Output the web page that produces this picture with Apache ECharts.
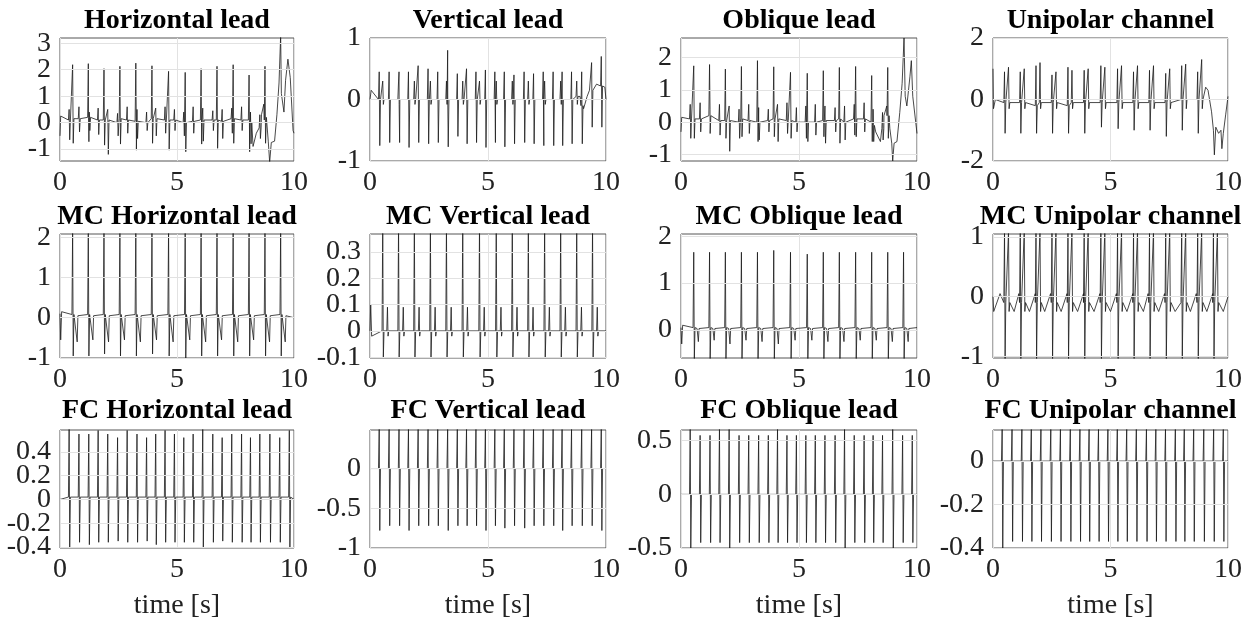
<!DOCTYPE html>
<html><head><meta charset="utf-8">
<script src="https://cdn.jsdelivr.net/npm/echarts@6/dist/echarts.min.js"></script>
<style>html,body{margin:0;background:#fff}#c{width:1255px;height:621px}</style>
</head><body><div id="c"></div>
<script>
// ---------- text ----------
const titles = ['Horizontal lead','Vertical lead','Oblique lead','Unipolar channel',
  'MC Horizontal lead','MC Vertical lead','MC Oblique lead','MC Unipolar channel',
  'FC Horizontal lead','FC Vertical lead','FC Oblique lead','FC Unipolar channel'];
const xLabel = 'time [s]';
const xTicks = [0, 5, 10];
const yRanges = [[-1.45,3.2],[-1,1],[-1.2,2.6],[-2,2],
  [-1,2.08],[-0.103,0.368],[-0.6,2.05],[-1.03,1.05],
  [-0.408,0.584],[-1,0.485],[-0.5,0.6],[-0.4,0.143]];
const yTicks = [[-1,0,1,2,3],[-1,0,1],[-1,0,1,2],[-2,0,2],
  [-1,0,1,2],[-0.1,0,0.1,0.2,0.3],[0,1,2],[-1,0,1],
  [-0.4,-0.2,0,0.2,0.4],[-1,-0.5,0],[-0.5,0,0.5],[-0.4,-0.2,0]];

// ---------- beats: [time s, baseline, peak, trough] ----------
const hRawBeats = [
 [0.54,0.15,2.19,-0.78],[1.21,0.2,2.23,-0.72],[1.88,0.1,2.04,-0.85],[2.56,0.15,2.13,-0.81],
 [3.24,0.05,2.25,-1.04],[3.93,0.15,2.15,-0.78],[4.64,0.1,1.94,-1.04],[5.35,0.0,1.9,-1.1],
 [6.03,0.1,2.04,-0.81],[6.71,0.1,2.13,-0.97],[7.40,0.15,2.19,-0.78],[8.08,0.1,1.8,-1.1],
 [8.76,0.1,2.13,-0.78],
 [0.39,0.1,0.5,-0.65],[0.81,0.15,0.6,-0.35],[1.25,0.2,0.4,-0.3],[1.63,0.1,0.55,-0.45],
 [2.04,0.1,0.5,-1.2],[2.46,0.0,0.35,-0.5],[2.87,0.1,0.6,-0.4],[3.29,0.05,0.5,-0.6],
 [3.70,0.0,0.4,-0.3],[4.09,0.15,0.55,-0.5],[4.49,0.1,0.6,-0.4],[4.89,0.1,0.5,-0.3],
 [5.29,0.0,0.4,-0.5],[5.69,0.05,0.6,-0.4],[6.10,0.1,0.55,-0.7],[6.53,0.1,0.45,-0.3],
 [6.93,0.05,0.5,-0.6],[7.34,0.15,0.55,-0.4],[7.76,0.1,0.6,-0.3],[8.14,0.0,0.4,-0.8],
 [8.54,-0.2,0.3,-0.6]];
const hRawWander = [[0,-0.5],[0.03,0.25],[8.25,-0.9],[8.39,-0.4],[8.61,0.3],[8.71,0.7],[8.82,0.2],
 [8.90,-0.7],[8.96,-1.5],[9.03,-0.75],[9.17,-0.7],[9.27,0.3],[9.36,1.5],[9.43,3.3],[9.46,1.1],
 [9.50,1.1],[9.57,0.4],[9.64,1.6],[9.74,2.4],[9.84,1.7],[9.96,-0.3],[10,-0.4]];

const vRawBeats = [
 [0.54,0.0,0.3,-0.08],[1.21,0.0,0.3,-0.08],[1.88,0.0,0.3,-0.08],[2.56,0.0,0.3,-0.08],
 [3.24,0.0,0.3,-0.08],[3.93,0.0,0.3,-0.08],[4.64,0.0,0.3,-0.08],[5.35,0.0,0.3,-0.08],
 [6.03,0.0,0.3,-0.08],[6.71,0.0,0.3,-0.08],[7.40,0.0,0.3,-0.08],[8.08,0.0,0.3,-0.08],
 [8.76,0.05,0.3,-0.08],
 [0.39,0.0,0.45,-0.75],[0.81,0.0,0.45,-0.7],[1.23,0.0,0.45,-0.7],[1.63,0.0,0.45,-0.78],
 [2.04,0.0,0.55,-0.7],[2.46,0.0,0.5,-0.72],[2.87,0.0,0.45,-0.7],[3.29,0.0,0.8,-0.77],
 [3.70,0.0,0.42,-0.6],[4.09,0.0,0.5,-0.72],[4.49,0.0,0.45,-0.7],[4.89,0.0,0.48,-0.78],
 [5.29,0.0,0.45,-0.7],[5.69,0.0,0.45,-0.77],[6.10,0.0,0.4,-0.72],[6.53,0.0,0.45,-0.7],
 [6.93,0.0,0.42,-0.72],[7.34,0.0,0.45,-0.75],[7.76,0.0,0.45,-0.75],[8.14,0.0,0.45,-0.75],
 [8.54,0.0,0.45,-0.72],[8.97,-0.1,0.45,-0.72],[9.39,0.15,0.6,-0.45],[9.80,0.22,0.7,-0.45]];
const vRawWander = [[0,0.0],[0.05,0.15],[8.9,0.05],[9.05,-0.15],[9.2,0.05],[9.3,0.15],[9.6,0.25],[9.95,0.2],[10,0.0]];

const oRawBeats = [
 [0.54,0.1,1.74,-0.5],[1.21,0.2,1.78,-0.35],[1.88,0.05,1.64,-0.5],[2.56,0.1,1.72,-0.45],
 [3.24,0.0,1.9,-0.6],[3.93,0.1,1.71,-0.45],[4.64,0.05,1.54,-0.5],[5.35,0.0,1.51,-0.6],
 [6.03,0.05,1.59,-0.45],[6.71,0.1,1.69,-0.65],[7.40,0.1,1.72,-0.45],[8.08,0.0,1.44,-0.6],
 [8.76,0.2,1.69,-0.5],
 [0.39,0.1,0.55,-0.5],[0.81,0.1,0.6,-0.3],[1.23,0.2,0.4,-0.3],[1.63,0.05,0.55,-0.4],
 [2.04,0.05,0.5,-0.9],[2.46,0.0,0.4,-0.5],[2.87,0.05,0.55,-0.35],[3.29,0.0,0.45,-0.55],
 [3.70,0.05,0.4,-0.3],[4.09,0.1,0.55,-0.6],[4.49,0.05,0.6,-0.35],[4.89,0.0,0.45,-0.3],
 [5.29,0.0,0.5,-0.5],[5.69,0.0,0.55,-0.4],[6.10,0.05,0.5,-0.65],[6.53,0.05,0.45,-0.3],
 [6.93,0.0,0.5,-0.55],[7.34,0.1,0.55,-0.4],[7.76,0.1,0.6,-0.3],[8.14,-0.1,0.4,-0.6],
 [8.54,-0.2,0.3,-0.55]];
const oRawWander = [[0,-0.3],[0.03,0.15],[8.25,-0.3],[8.45,-0.6],[8.6,0.2],[8.72,0.5],[8.85,-0.2],
 [8.93,-0.65],[8.97,-1.2],[9.03,-0.65],[9.15,-0.6],[9.27,0.3],[9.37,1.2],[9.45,2.6],[9.5,0.8],
 [9.57,0.5],[9.7,1.4],[9.76,1.9],[9.82,0.8],[10,-0.35]];

const uRawBeats = [
 [0.49,-0.1,0.9,-1.1],[0.66,-0.1,1.05,-0.3],[1.16,-0.1,0.9,-1.1],[1.33,-0.1,1.0,-0.3],
 [1.83,-0.2,1.1,-1.1],[2.00,-0.1,1.2,-0.3],[2.51,-0.1,0.8,-1.1],[2.68,-0.1,0.9,-0.3],
 [3.19,-0.2,1.05,-1.1],[3.36,-0.1,0.95,-0.3],[3.88,-0.1,0.95,-1.1],[4.05,-0.1,1.0,-0.3],
 [4.59,-0.1,1.1,-0.9],[4.76,-0.1,1.05,-0.3],[5.30,-0.1,1.0,-0.95],[5.47,-0.1,1.1,-0.3],
 [5.98,-0.1,0.9,-1.0],[6.15,-0.1,1.1,-0.3],[6.66,-0.1,0.95,-1.0],[6.83,-0.1,1.1,-0.3],
 [7.35,-0.1,0.85,-1.2],[7.52,-0.1,1.0,-0.3],[8.03,0.0,1.1,-1.0],[8.20,0.0,1.15,-0.3],
 [8.71,0.0,0.9,-1.1],[8.88,0.0,1.3,-0.3]];
const uRawWander = [[0,1.0],[0.02,-0.3],[0.1,0.0],[9.05,0.4],[9.15,0.3],[9.3,-0.4],[9.38,-1.0],
 [9.42,-1.8],[9.48,-0.9],[9.6,-1.1],[9.7,-1.0],[9.74,-1.6],[9.8,-1.1],[9.9,-0.5],[10,0.1]];

const hMcBeats = [
 [0.54,0.08,2.2,-0.95],[0.71,0.05,0.05,-0.6],[1.21,0.08,2.2,-0.95],[1.38,0.05,0.05,-0.55],
 [1.88,0.08,2.2,-0.9],[2.05,0.05,0.05,-0.6],[2.56,0.08,2.2,-0.95],[2.73,0.05,0.05,-0.55],
 [3.24,0.08,2.2,-0.95],[3.41,0.05,0.05,-0.6],[3.93,0.08,2.2,-0.9],[4.10,0.05,0.05,-0.55],
 [4.64,0.08,2.2,-0.95],[4.81,0.05,0.05,-0.6],[5.35,0.08,2.2,-1.0],[5.52,0.05,0.05,-0.55],
 [6.03,0.08,2.2,-0.95],[6.20,0.05,0.05,-0.6],[6.71,0.08,2.2,-0.95],[6.88,0.05,0.05,-0.55],
 [7.40,0.08,2.2,-0.95],[7.57,0.05,0.05,-0.6],[8.08,0.08,2.2,-0.95],[8.25,0.05,0.05,-0.55],
 [8.76,0.08,2.2,-0.95],[8.93,0.05,0.05,-0.6],[9.43,0.08,2.2,-0.95],[9.60,0.05,0.05,-0.6]];
const hMcWander = [[0,0.1],[0.03,-0.55],[0.07,0.15],[10,0.0]];

const vMcBeats = [
 [0.54,0.0,0.4,-0.1],[0.74,0.0,0.09,-0.02],[1.21,0.0,0.4,-0.1],[1.41,0.0,0.09,-0.02],
 [1.88,0.0,0.4,-0.1],[2.08,0.0,0.09,-0.02],[2.56,0.0,0.4,-0.1],[2.76,0.0,0.09,-0.02],
 [3.24,0.0,0.4,-0.1],[3.44,0.0,0.09,-0.02],[3.93,0.0,0.4,-0.1],[4.13,0.0,0.09,-0.02],
 [4.64,0.0,0.4,-0.1],[4.84,0.0,0.09,-0.02],[5.35,0.0,0.4,-0.1],[5.55,0.0,0.09,-0.02],
 [6.03,0.0,0.4,-0.1],[6.23,0.0,0.09,-0.02],[6.71,0.0,0.4,-0.1],[6.91,0.0,0.09,-0.02],
 [7.40,0.0,0.4,-0.1],[7.60,0.0,0.09,-0.02],[8.08,0.0,0.4,-0.1],[8.28,0.0,0.09,-0.02],
 [8.76,0.0,0.4,-0.1],[8.96,0.0,0.09,-0.02],[9.43,0.0,0.4,-0.1],[9.63,0.0,0.09,-0.02]];
const vMcWander = [[0,0.0],[0.03,0.1],[0.07,-0.02],[10,0.0]];

const oMcBeats = [
 [0.54,0.05,1.66,-0.62],[0.71,0.03,0.03,-0.25],[1.21,0.05,1.66,-0.62],[1.38,0.03,0.03,-0.22],
 [1.88,0.05,1.66,-0.62],[2.05,0.03,0.03,-0.3],[2.56,0.05,1.66,-0.62],[2.73,0.03,0.03,-0.22],
 [3.24,0.05,1.66,-0.62],[3.41,0.03,0.03,-0.25],[3.93,0.05,1.7,-0.62],[4.10,0.03,0.03,-0.3],
 [4.64,0.05,1.66,-0.62],[4.81,0.03,0.03,-0.22],[5.35,0.05,1.62,-0.62],[5.52,0.03,0.03,-0.22],
 [6.03,0.05,1.66,-0.62],[6.20,0.03,0.03,-0.25],[6.71,0.05,1.66,-0.62],[6.88,0.03,0.03,-0.25],
 [7.40,0.05,1.66,-0.62],[7.57,0.03,0.03,-0.22],[8.08,0.05,1.66,-0.62],[8.25,0.03,0.03,-0.22],
 [8.76,0.05,1.66,-0.62],[8.93,0.03,0.03,-0.25],[9.43,0.05,1.66,-0.62],[9.60,0.03,0.03,-0.25]];
const oMcWander = [[0,0.05],[0.03,-0.3],[0.07,0.1],[10,0.05]];

const uMcBeats = [
 [0.49,-0.1,1.1,-1.05],[0.66,-0.1,1.1,-0.25],[1.16,-0.1,1.1,-1.05],[1.33,-0.1,1.1,-0.25],
 [1.83,-0.1,1.1,-1.05],[2.00,-0.1,1.1,-0.25],[2.51,-0.1,1.1,-1.05],[2.68,-0.1,1.1,-0.25],
 [3.19,-0.1,1.1,-1.05],[3.36,-0.1,1.1,-0.25],[3.88,-0.1,1.1,-1.05],[4.05,-0.1,1.1,-0.25],
 [4.59,-0.1,1.1,-1.05],[4.76,-0.1,1.1,-0.25],[5.30,-0.1,1.1,-1.05],[5.47,-0.1,1.1,-0.25],
 [5.98,-0.1,1.1,-1.05],[6.15,-0.1,1.1,-0.25],[6.66,-0.1,1.1,-1.05],[6.83,-0.1,1.1,-0.25],
 [7.35,-0.1,1.1,-1.05],[7.52,-0.1,1.1,-0.25],[8.03,-0.1,1.1,-1.05],[8.20,-0.1,1.1,-0.25],
 [8.71,-0.1,1.1,-1.05],[8.88,-0.1,1.1,-0.25],[9.38,-0.1,1.1,-1.05],[9.55,-0.1,1.1,-0.25]];
const uMcWander = [[0,0.0],[0.03,-0.25],[0.3,0.05],[0.9,-0.25],[1.1,0.05],[1.55,-0.25],[1.8,0.05],
 [2.2,-0.25],[2.45,0.05],[2.9,-0.25],[3.15,0.05],[3.6,-0.25],[3.85,0.05],[4.3,-0.25],[4.55,0.05],
 [5.0,-0.25],[5.25,0.05],[5.7,-0.25],[5.95,0.05],[6.4,-0.25],[6.6,0.05],[7.05,-0.25],[7.3,0.05],
 [7.75,-0.25],[8.0,0.05],[8.4,-0.25],[8.65,0.05],[9.1,-0.25],[9.35,0.05],[9.8,-0.25],[10,0.0]];

const hFcBeats = [
 [0.39,0.02,0.6,-0.4],[0.81,0.02,0.55,-0.36],[1.23,0.02,0.55,-0.38],[1.63,0.02,0.58,-0.36],
 [2.04,0.02,0.55,-0.36],[2.46,0.02,0.52,-0.35],[2.87,0.02,0.58,-0.36],[3.29,0.02,0.55,-0.36],
 [3.70,0.02,0.52,-0.35],[4.09,0.02,0.55,-0.38],[4.49,0.02,0.58,-0.36],[4.89,0.02,0.55,-0.36],
 [5.29,0.02,0.52,-0.36],[5.69,0.02,0.55,-0.36],[6.10,0.02,0.6,-0.4],[6.53,0.02,0.55,-0.36],
 [6.93,0.02,0.52,-0.35],[7.34,0.02,0.55,-0.36],[7.76,0.02,0.55,-0.36],[8.14,0.02,0.52,-0.36],
 [8.54,0.02,0.55,-0.36],[8.97,0.02,0.55,-0.36],[9.39,0.02,0.52,-0.36],[9.80,0.02,0.58,-0.4]];
const vFcBeats = [
 [0.39,0.0,0.5,-0.78],[0.81,0.0,0.5,-0.72],[1.23,0.0,0.5,-0.72],[1.63,0.0,0.5,-0.78],
 [2.04,0.0,0.5,-0.72],[2.46,0.0,0.5,-0.72],[2.87,0.0,0.5,-0.72],[3.29,0.0,0.5,-0.78],
 [3.70,0.0,0.5,-0.72],[4.09,0.0,0.5,-0.72],[4.49,0.0,0.5,-0.72],[4.89,0.0,0.5,-0.78],
 [5.29,0.0,0.5,-0.72],[5.69,0.0,0.5,-0.75],[6.10,0.0,0.5,-0.72],[6.53,0.0,0.5,-0.75],
 [6.93,0.0,0.5,-0.72],[7.34,0.0,0.5,-0.72],[7.76,0.0,0.5,-0.72],[8.14,0.0,0.5,-0.78],
 [8.54,0.0,0.5,-0.72],[8.97,0.0,0.5,-0.72],[9.39,0.0,0.5,-0.72],[9.80,0.0,0.5,-0.78]];
const oFcBeats = [
 [0.39,0.0,0.62,-0.5],[0.81,0.0,0.55,-0.45],[1.23,0.0,0.55,-0.45],[1.63,0.0,0.62,-0.45],
 [2.04,0.0,0.62,-0.5],[2.46,0.0,0.55,-0.45],[2.87,0.0,0.55,-0.45],[3.29,0.0,0.55,-0.45],
 [3.70,0.0,0.55,-0.45],[4.09,0.0,0.62,-0.45],[4.49,0.0,0.55,-0.45],[4.89,0.0,0.55,-0.45],
 [5.29,0.0,0.55,-0.45],[5.69,0.0,0.55,-0.45],[6.10,0.0,0.55,-0.45],[6.53,0.0,0.55,-0.45],
 [6.93,0.0,0.62,-0.5],[7.34,0.0,0.55,-0.45],[7.76,0.0,0.55,-0.45],[8.14,0.0,0.55,-0.45],
 [8.54,0.0,0.55,-0.45],[8.97,0.0,0.62,-0.5],[9.39,0.0,0.55,-0.45],[9.80,0.0,0.55,-0.45]];
const uFcBeats = [
 [0.39,0.0,0.15,-0.4],[0.81,0.0,0.15,-0.37],[1.23,0.0,0.15,-0.37],[1.63,0.0,0.15,-0.37],
 [2.04,0.0,0.15,-0.37],[2.46,0.0,0.15,-0.37],[2.87,0.0,0.15,-0.37],[3.29,0.0,0.15,-0.37],
 [3.70,0.0,0.15,-0.37],[4.09,0.0,0.15,-0.37],[4.49,0.0,0.15,-0.37],[4.89,0.0,0.15,-0.37],
 [5.29,0.0,0.15,-0.37],[5.69,0.0,0.15,-0.37],[6.10,0.0,0.15,-0.37],[6.53,0.0,0.15,-0.37],
 [6.93,0.0,0.15,-0.37],[7.34,0.0,0.15,-0.37],[7.76,0.0,0.15,-0.37],[8.14,0.0,0.15,-0.37],
 [8.54,0.0,0.15,-0.37],[8.97,0.0,0.15,-0.37],[9.39,0.0,0.15,-0.37],[9.80,0.0,0.15,-0.37]];
const fcWander = [[0,0.0],[10,0.0]];

// ---------- assemble ----------
const panelBeats = [hRawBeats,vRawBeats,oRawBeats,uRawBeats,hMcBeats,vMcBeats,oMcBeats,uMcBeats,
  hFcBeats,vFcBeats,oFcBeats,uFcBeats];
const panelWander = [hRawWander,vRawWander,oRawWander,uRawWander,hMcWander,vMcWander,oMcWander,uMcWander,
  fcWander,fcWander,fcWander,fcWander];

function buildSignal(beats, wander){
  const pts = wander.map(p => [p[0], p[1]]);
  beats.forEach(([t,b,u,d]) => {
    pts.push([t-0.03,b],[t,u],[t+0.025,d],[t+0.055,b]);
  });
  pts.sort((a,b)=>a[0]-b[0]);
  return pts;
}

const colLeft = [60, 370, 681, 993];
const colWidth = [234, 236, 236, 235];
const rowTop = [38, 234, 430];
const rowHeight = [123, 124, 124];
const titleY = [21, 217, 411];
const FONT = '"Liberation Serif","Times New Roman",serif';

function yAxisFor(i, ticks){
  return {type:'value', gridIndex:i, position:'left', min:yRanges[i][0], max:yRanges[i][1],
    axisLine:{show:false}, axisTick:{show:false}, splitLine:{show:false},
    axisLabel:{color:'#222', fontFamily:FONT, fontSize:28, margin:9, hideOverlap:false,
      showMinLabel:true, showMaxLabel:true, customValues:ticks, formatter:v=>String(v)}};
}

const grid=[], xAxis=[], yAxis=[], extraY=[], series=[];
for (let i=0;i<12;i++){
  const r = Math.floor(i/4), c = i%4;
  grid.push({left:colLeft[c], top:rowTop[r], width:colWidth[c], height:rowHeight[r],
    show:true, borderColor:'#555', borderWidth:1, backgroundColor:'#fff'});
  xAxis.push({type:'value', gridIndex:i, min:0, max:10, interval:5,
    axisLine:{show:false}, axisTick:{show:false},
    splitLine:{show:true, lineStyle:{color:'#e2e2e2', width:1}},
    axisLabel:{color:'#222', fontFamily:FONT, fontSize:28, margin:8, hideOverlap:false,
      showMinLabel:true, showMaxLabel:true},
    name: r===2 ? xLabel : '', nameLocation:'middle', nameGap:44,
    nameTextStyle:{color:'#222', fontFamily:FONT, fontSize:28}});
  // labels split over two axes (alternate ticks) so none get thinned out
  const even = yTicks[i].filter((_,k)=>k%2===0);
  const odd = yTicks[i].filter((_,k)=>k%2===1);
  yAxis.push(yAxisFor(i, even));
  if (odd.length) extraY.push(yAxisFor(i, odd));
  series.push({type:'line', xAxisIndex:i, yAxisIndex:i, showSymbol:false, symbol:'none',
    data: buildSignal(panelBeats[i], panelWander[i]), clip:true, animation:false,
    lineStyle:{color:'#1a1a1a', width:0.8},
    markLine:{silent:true, symbol:'none', label:{show:false}, animation:false,
      lineStyle:{color:'#e2e2e2', width:1, type:'solid'},
      data: yTicks[i].map(v=>({yAxis:v}))}});
}

const chart = echarts.init(document.getElementById('c'), null, {renderer:'canvas'});
chart.setOption({animation:false, grid, xAxis, yAxis: yAxis.concat(extraY), series,
  graphic: titles.map((t,i)=>{
    const r = Math.floor(i/4), c = i%4;
    return {type:'text', x: colLeft[c] + colWidth[c]/2, y: titleY[r],
      style:{text:t, font:'bold 28px '+FONT, fill:'#000', align:'center', verticalAlign:'middle'}};
  })});
</script></body></html>
